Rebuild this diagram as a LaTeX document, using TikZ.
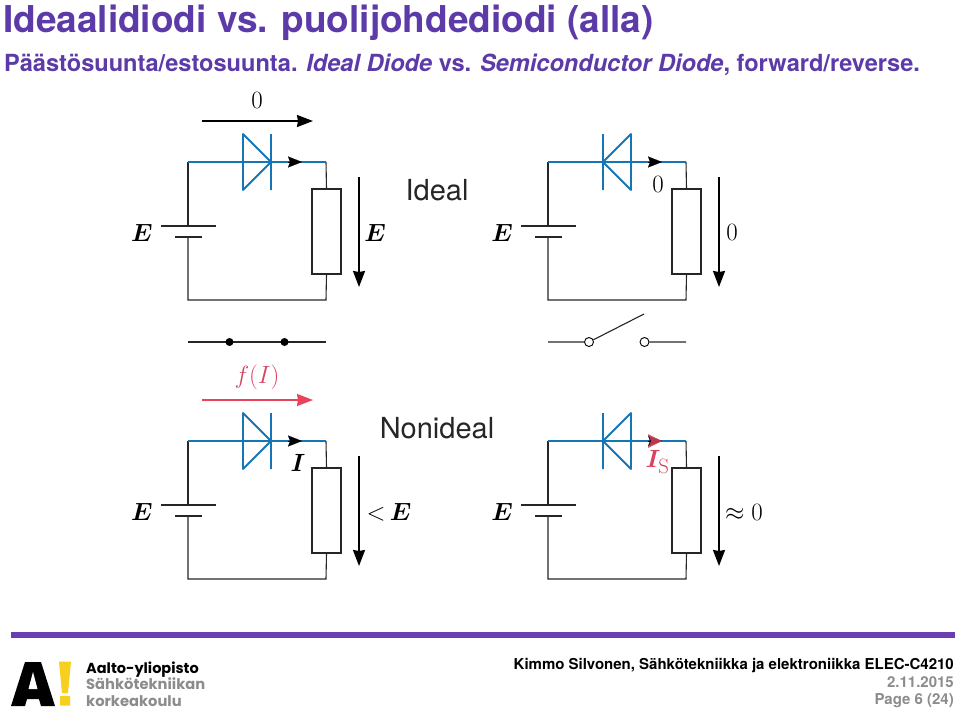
\documentclass[tikz,border=0pt]{standalone}
\usepackage{bm}
\usepackage[no-math]{fontspec}
\setmainfont{TeX Gyre Heros}
\newfontfamily\logofont{Poppins}
\usepackage{tikz}
\usetikzlibrary{arrows.meta}

\definecolor{titlepurple}{HTML}{5C3BA8}
\definecolor{wireblue}{HTML}{1575B5}
\definecolor{barpurple}{HTML}{6A3DB0}
\definecolor{labelred}{HTML}{D8435F}
\definecolor{arrowred}{HTML}{E8435A}
\definecolor{logoyellow}{HTML}{F7CF1E}
\definecolor{footgray}{HTML}{8C8C8C}

\tikzset{
    wire/.style={line width=1.1pt, black!85},
    bluewire/.style={line width=1.8pt, wireblue},
    flow/.style={line width=1.7pt, -{Stealth[length=16pt,width=12pt,inset=1pt]}},
    resbox/.style={draw, line width=1.1pt, black!85, fill=white, minimum width=29pt, minimum height=85pt, inner sep=0pt},
    mathlabel/.style={font=\fontsize{28}{28}\selectfont, inner sep=0pt},
    textlabel/.style={font=\fontsize{29}{29}\selectfont, inner sep=0pt, text=black!85},
    smalltip/.style={-{Stealth[length=14pt,width=11pt,inset=2pt]}, line width=0.1pt}
}

\begin{document}
\begin{tikzpicture}[x=1pt, y=-1pt, >=stealth]
    \useasboundingbox (0,0) rectangle (960,715);

    % otsikot
    \node[anchor=base west, inner sep=0pt, text=titlepurple, font=\bfseries\fontsize{37}{37}\selectfont] (title) at (3,32) {Ideaalidiodi vs. puolijohdediodi (alla)};
    \node[anchor=base west, inner sep=0pt, text=titlepurple, font=\bfseries\fontsize{23.6}{24}\selectfont] (subtitle) at (4,71) {Päästösuunta/estosuunta. \textit{Ideal Diode} vs. \textit{Semiconductor Diode}, forward/reverse.};

    % neljä piiriä: oikea ja alempi siirretty
    \foreach \cx/\cy/\cname in {0/0/a, 360/0/b, 0/279/c, 360/279/d} {
        \begin{scope}[shift={(\cx,\cy)}]
            \coordinate (tl\cname) at (188,162);
            \coordinate (tr\cname) at (326,162);
            \coordinate (bl\cname) at (188,300);
            \coordinate (br\cname) at (326,300);
            \coordinate (batp\cname) at (188,226);
            \coordinate (batn\cname) at (188,237);
            \coordinate (utop\cname) at (359,177);
            \coordinate (ubot\cname) at (359,287);
            \node[resbox] (res\cname) at (326.5,231.5) {};
            \node[mathlabel] (e\cname) at (142,233) {$\bm{E}$};
            \draw[wire] (tl\cname) -- (batp\cname);
            \draw[wire] (161,226) -- (216,226);
            \draw[wire] (175,237) -- (202,237);
            \draw[wire] (batn\cname) -- (bl\cname) -- (br\cname) -- (res\cname.south);
            \draw[wire] (tr\cname) -- (res\cname.north);
            \draw[flow] (utop\cname) -- (ubot\cname);
            \draw[bluewire] (tl\cname) -- (tr\cname);
            \coordinate (tip\cname) at (302,162);
            \draw[smalltip] (288,162) -- (tip\cname);
        \end{scope}
    }

    % diodit
    \foreach \cy/\cname in {0/a, 279/c}
        \draw[bluewire, line join=round] (243,134+\cy) -- (271,162+\cy) -- (243,190+\cy) -- cycle (271,134+\cy) -- (271,190+\cy);
    \foreach \cy/\cname in {0/b, 279/d}
        \draw[bluewire, line join=round] (631,134+\cy) -- (603,162+\cy) -- (631,190+\cy) -- cycle (603,134+\cy) -- (603,190+\cy);

    % jännitteet
    \coordinate (ua0) at (202,121);
    \coordinate (ua1) at (313,121);
    \draw[flow] (ua0) -- (ua1);
    \node[mathlabel] (uazero) at (257,100) {$0$};
    \node[mathlabel] (ea) at (375,233) {$\bm{E}$};
    \node[mathlabel] (bzero) at (658,184) {$0$};
    \node[mathlabel] (ubzero) at (732,232) {$0$};
    \coordinate (uc0) at (202,400);
    \coordinate (uc1) at (313,400);
    \draw[flow, draw=arrowred, fill=arrowred] (uc0) -- (uc1);
    \node[mathlabel, text=labelred] (fi) at (257,377) {$f(I)$};
    \node[mathlabel] (ci) at (298,463) {$\bm{I}$};
    \node[mathlabel] (ltec) at (389,512) {${<}\,\bm{E}$};
    \node[mathlabel, text=labelred] (is) at (657.5,462) {$\bm{I}_{\mathrm{S}}$};
    \node[mathlabel] (approxd) at (744,512) {$\approx 0$};
    \fill[labelred, opacity=0.85] (648,434) -- (662,441) -- (648,448) -- (651,441) -- cycle;

    \node[textlabel, anchor=base] (ideal) at (437,200) {Ideal};
    \node[textlabel, anchor=base] (nonideal) at (437,438) {Nonideal};

    % kytkimet
    \coordinate (sa0) at (188,342);
    \coordinate (sa1) at (326,342);
    \draw[wire] (sa0) -- (sa1);
    \fill (229.5,342) circle (4pt) (284.5,342) circle (4pt);
    \coordinate (sb0) at (548,342);
    \coordinate (sb1) at (686,342);
    \node[circle, draw, line width=0.9pt, inner sep=0pt, minimum size=9pt] (sbl) at (589,342) {};
    \node[circle, draw, line width=0.9pt, inner sep=0pt, minimum size=9pt] (sbr) at (644.5,342) {};
    \coordinate (sbt) at (644,314);
    \draw[wire] (sb0) -- (sbl) (sbl) -- (sbt) (sbr) -- (sb1);

    % alaosa
    \fill[barpurple] (11,632) rectangle (955,638);
    \fill[black] (11,706) -- (25,662) -- (41,662) -- (55,706) -- (41,706) -- (39,699) -- (27,699) -- (25,706) -- cycle;
    \fill[white] (28.5,689) -- (33,672) -- (37.5,689) -- cycle;
    \fill[logoyellow] (59,661.5) -- (71,661.5) -- (68,693) -- (62,693) -- cycle (60,696) rectangle (70,705.5);
    \node[anchor=base west, inner sep=0pt, font=\logofont\bfseries\fontsize{14.5}{15}\selectfont] (aalto) at (86,673) {Aalto-yliopisto};
    \node[anchor=base west, inner sep=0pt, text=footgray, font=\logofont\bfseries\fontsize{14.7}{15}\selectfont] (dept) at (86,689) {Sähkötekniikan};
    \node[anchor=base west, inner sep=0pt, text=footgray, font=\logofont\bfseries\fontsize{14.7}{15}\selectfont] (school) at (86,706) {korkeakoulu};
    \node[anchor=base east, inner sep=0pt, font=\bfseries\fontsize{15}{15}\selectfont] (author) at (954,669) {Kimmo Silvonen, Sähkötekniikka ja elektroniikka ELEC-C4210};
    \node[anchor=base east, inner sep=0pt, text=footgray, font=\bfseries\fontsize{15}{15}\selectfont] (date) at (954,687) {2.11.2015};
    \node[anchor=base east, inner sep=0pt, text=footgray, font=\bfseries\fontsize{15}{15}\selectfont] (page) at (954,704) {Page 6 (24)};
\end{tikzpicture}
\end{document}
